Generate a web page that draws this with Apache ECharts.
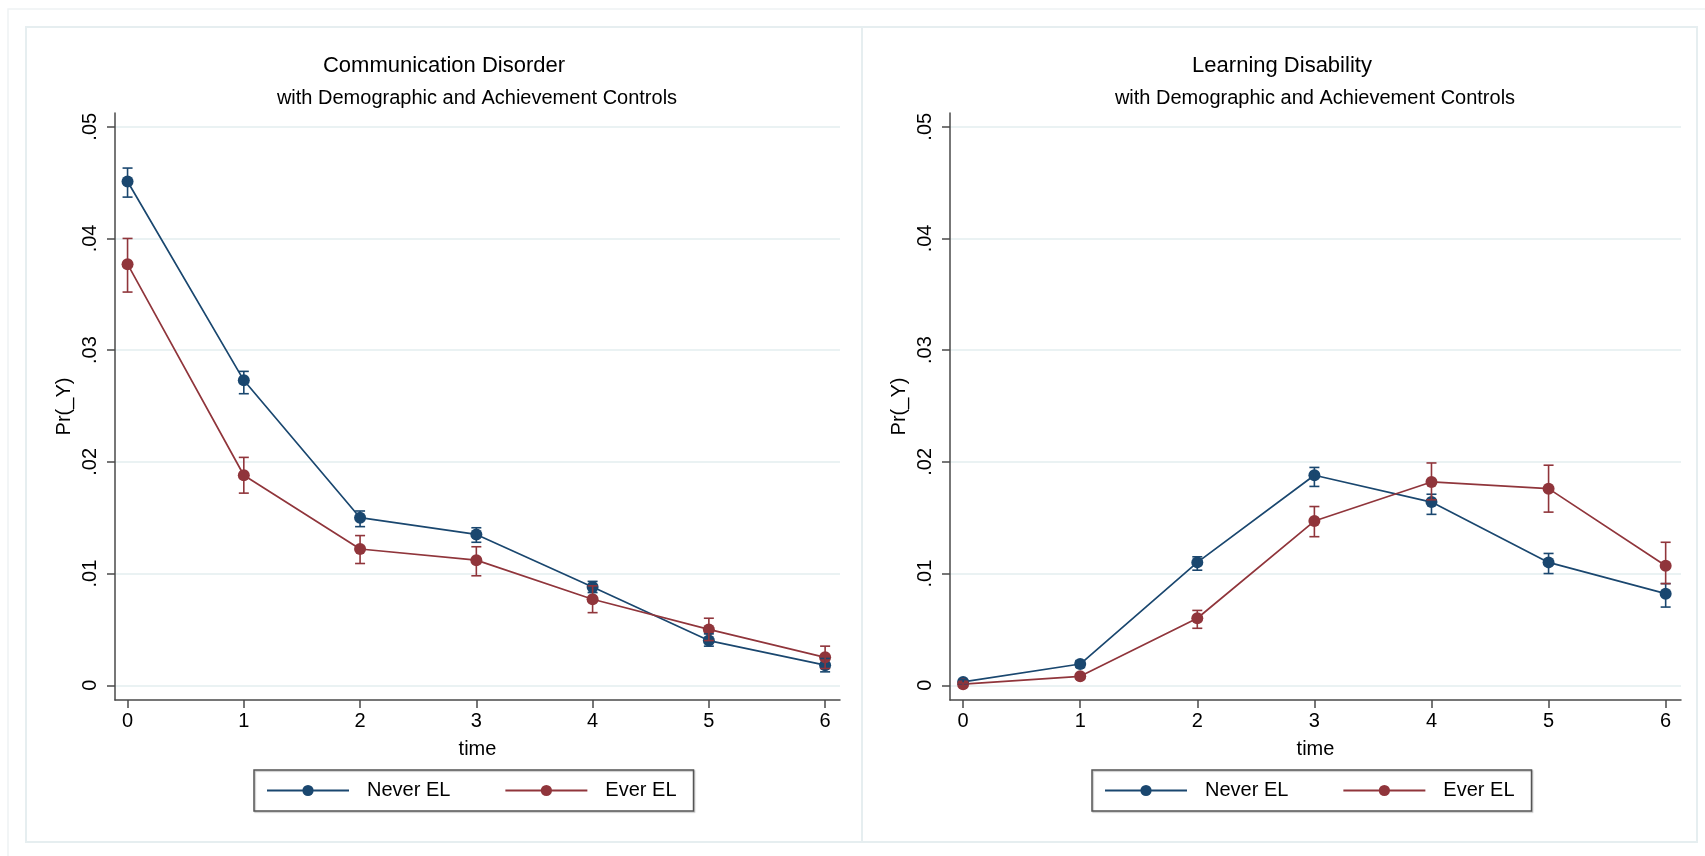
<!DOCTYPE html>
<html>
<head>
<meta charset="utf-8">
<script src="https://cdn.jsdelivr.net/npm/echarts@6/dist/echarts.min.js"></script>
<style>
html,body{margin:0;padding:0;background:#fff;}
#chart{width:1705px;height:856px;}
</style>
</head>
<body>
<div id="chart"></div>
<script>
// ---- data ----
const timePoints = [0, 1, 2, 3, 4, 5, 6];
const yTicks = [0, 0.01, 0.02, 0.03, 0.04, 0.05];
const yTickLabels = ['0', '.01', '.02', '.03', '.04', '.05'];
const seriesNames = ['Never EL', 'Ever EL'];

// Communication Disorder
const commNever   = [0.0451, 0.0273, 0.0150, 0.0135, 0.0088, 0.0040, 0.0018];
const commNeverLo = [0.0437, 0.0261, 0.0142, 0.0128, 0.0083, 0.0035, 0.0012];
const commNeverHi = [0.0463, 0.0281, 0.0156, 0.0141, 0.0093, 0.0046, 0.0024];
const commEver    = [0.0377, 0.0188, 0.0122, 0.0112, 0.0077, 0.0050, 0.0025];
const commEverLo  = [0.0352, 0.0172, 0.0109, 0.0098, 0.0065, 0.0040, 0.0015];
const commEverHi  = [0.0400, 0.0204, 0.0134, 0.0124, 0.0089, 0.0060, 0.0035];

// Learning Disability
const ldNever   = [0.0003, 0.0019, 0.0110, 0.0188, 0.0164, 0.0110, 0.0082];
const ldNeverLo = [0.0001, 0.0016, 0.0103, 0.0178, 0.0153, 0.0100, 0.0070];
const ldNeverHi = [0.0005, 0.0022, 0.0115, 0.0195, 0.0171, 0.0118, 0.0091];
const ldEver    = [0.0001, 0.0008, 0.0060, 0.0147, 0.0182, 0.0176, 0.0107];
const ldEverLo  = [0.0000, 0.0006, 0.0051, 0.0133, 0.0166, 0.0155, 0.0091];
const ldEverHi  = [0.0002, 0.0010, 0.0067, 0.0160, 0.0199, 0.0197, 0.0128];

const titles = ['Communication Disorder', 'Learning Disability'];
const subtitle = 'with Demographic and Achievement Controls';
const xName = 'time';
const yName = 'Pr(_Y)';

// ---- style ----
const NAVY = '#1a476f';
const MAROON = '#90353b';
const FONT = 'Liberation Sans, Arial, Helvetica, sans-serif';
const AXIS_COLOR = '#4a4a4a';
const GRID_COLOR = '#eaf2f3';
const FRAME_COLOR = '#e6eef0';

function pairs(y) { return timePoints.map((t, i) => [t, y[i]]); }
function ci(lo, hi) { return timePoints.map((t, i) => [t, lo[i], hi[i]]); }

function errRender(color) {
  return function (params, api) {
    const x = api.value(0);
    const pLo = api.coord([x, api.value(1)]);
    const pHi = api.coord([x, api.value(2)]);
    const hw = 5;
    const st = { stroke: color, lineWidth: 1.6 };
    return {
      type: 'group',
      children: [
        { type: 'line', shape: { x1: pLo[0], y1: pLo[1], x2: pHi[0], y2: pHi[1] }, style: st },
        { type: 'line', shape: { x1: pLo[0] - hw, y1: pLo[1], x2: pLo[0] + hw, y2: pLo[1] }, style: st },
        { type: 'line', shape: { x1: pHi[0] - hw, y1: pHi[1], x2: pHi[0] + hw, y2: pHi[1] }, style: st }
      ]
    };
  };
}

const grids = [
  { left: 115, top: 113, width: 725, height: 587 },
  { left: 950, top: 113, width: 731, height: 587 }
];
const xRanges = [[-0.108, 6.128], [-0.112, 6.131]];
const yRange = [-0.00132, 0.05123];

function makeX(i) {
  return {
    gridIndex: i, type: 'value', min: xRanges[i][0], max: xRanges[i][1],
    name: xName, nameLocation: 'middle', nameGap: 39,
    nameTextStyle: { fontFamily: FONT, fontSize: 20, color: '#000' },
    axisLine: { show: true, onZero: false, lineStyle: { color: AXIS_COLOR, width: 1.5 } },
    axisTick: { show: true, customValues: timePoints, length: 8, lineStyle: { color: AXIS_COLOR, width: 1.5 } },
    axisLabel: { customValues: timePoints, fontFamily: FONT, fontSize: 20, color: '#000', margin: 11 },
    splitLine: { show: false }
  };
}
function makeY(i) {
  return {
    gridIndex: i, type: 'value', min: yRange[0], max: yRange[1],
    name: yName, nameLocation: 'middle', nameGap: 41,
    nameTextStyle: { fontFamily: FONT, fontSize: 20, color: '#000' },
    axisLine: { show: true, onZero: false, lineStyle: { color: AXIS_COLOR, width: 1.5 } },
    axisTick: { show: true, customValues: yTicks, length: 8, lineStyle: { color: AXIS_COLOR, width: 1.5 } },
    axisLabel: {
      customValues: yTicks, rotate: 90, fontFamily: FONT, fontSize: 20, color: '#000', margin: 15,
      formatter: function (v) {
        const idx = yTicks.findIndex(t => Math.abs(t - v) < 1e-9);
        return idx >= 0 ? yTickLabels[idx] : '';
      }
    },
    splitLine: { show: true, lineStyle: { color: GRID_COLOR, width: 2 } }
  };
}

function lineSeries(name, data, color, i) {
  return {
    name: name, type: 'line', xAxisIndex: i, yAxisIndex: i, data: pairs(data),
    symbol: 'circle', symbolSize: 12, showSymbol: true,
    itemStyle: { color: color }, lineStyle: { color: color, width: 1.7 }, z: 3
  };
}
function ciSeries(name, lo, hi, color, i) {
  return {
    name: name + ' CI', type: 'custom', xAxisIndex: i, yAxisIndex: i,
    data: ci(lo, hi), renderItem: errRender(color),
    encode: { x: 0, y: [1, 2] }, z: 4, silent: true
  };
}

const legendCommon = {
  data: seriesNames, orient: 'horizontal', top: 770,
  padding: [10, 17, 10, 12], itemGap: 54, itemWidth: 82, itemHeight: 14,
  borderColor: '#555', borderWidth: 1.5,
  shadowColor: 'rgba(0,0,0,0.25)', shadowOffsetX: 1, shadowOffsetY: 1, shadowBlur: 1,
  textStyle: { fontFamily: FONT, fontSize: 20, color: '#000', lineHeight: 21, padding: [0, 0, 0, 13] },
  selectedMode: false
};

const option = {
  animation: false,
  backgroundColor: '#fff',
  graphic: [
    { type: 'polyline', shape: { points: [[8, 856], [8, 9], [1705, 9]] }, style: { stroke: '#eef2f4', lineWidth: 1.5, fill: null }, silent: true },
    { type: 'rect', shape: { x: 26, y: 27, width: 836, height: 815 }, style: { stroke: FRAME_COLOR, lineWidth: 2, fill: null }, silent: true },
    { type: 'rect', shape: { x: 862, y: 27, width: 835, height: 815 }, style: { stroke: FRAME_COLOR, lineWidth: 2, fill: null }, silent: true }
  ],
  title: [
    { text: titles[0], left: 444, top: 55, textAlign: 'center', padding: 0, textStyle: { fontFamily: FONT, fontSize: 22, fontWeight: 'normal', color: '#000' } },
    { text: subtitle, left: 477, top: 88, textAlign: 'center', padding: 0, textStyle: { fontFamily: FONT, fontSize: 20, fontWeight: 'normal', color: '#000' } },
    { text: titles[1], left: 1282, top: 55, textAlign: 'center', padding: 0, textStyle: { fontFamily: FONT, fontSize: 22, fontWeight: 'normal', color: '#000' } },
    { text: subtitle, left: 1315, top: 88, textAlign: 'center', padding: 0, textStyle: { fontFamily: FONT, fontSize: 20, fontWeight: 'normal', color: '#000' } }
  ],
  legend: [
    Object.assign({}, legendCommon, { left: 254 }),
    Object.assign({}, legendCommon, { left: 1092 })
  ],
  grid: grids,
  xAxis: [makeX(0), makeX(1)],
  yAxis: [makeY(0), makeY(1)],
  series: [
    lineSeries(seriesNames[0], commNever, NAVY, 0),
    ciSeries(seriesNames[0], commNeverLo, commNeverHi, NAVY, 0),
    lineSeries(seriesNames[1], commEver, MAROON, 0),
    ciSeries(seriesNames[1], commEverLo, commEverHi, MAROON, 0),
    lineSeries(seriesNames[0], ldNever, NAVY, 1),
    ciSeries(seriesNames[0], ldNeverLo, ldNeverHi, NAVY, 1),
    lineSeries(seriesNames[1], ldEver, MAROON, 1),
    ciSeries(seriesNames[1], ldEverLo, ldEverHi, MAROON, 1)
  ]
};

const chart = echarts.init(document.getElementById('chart'), null, { renderer: 'canvas' });
chart.setOption(option);
</script>
</body>
</html>
